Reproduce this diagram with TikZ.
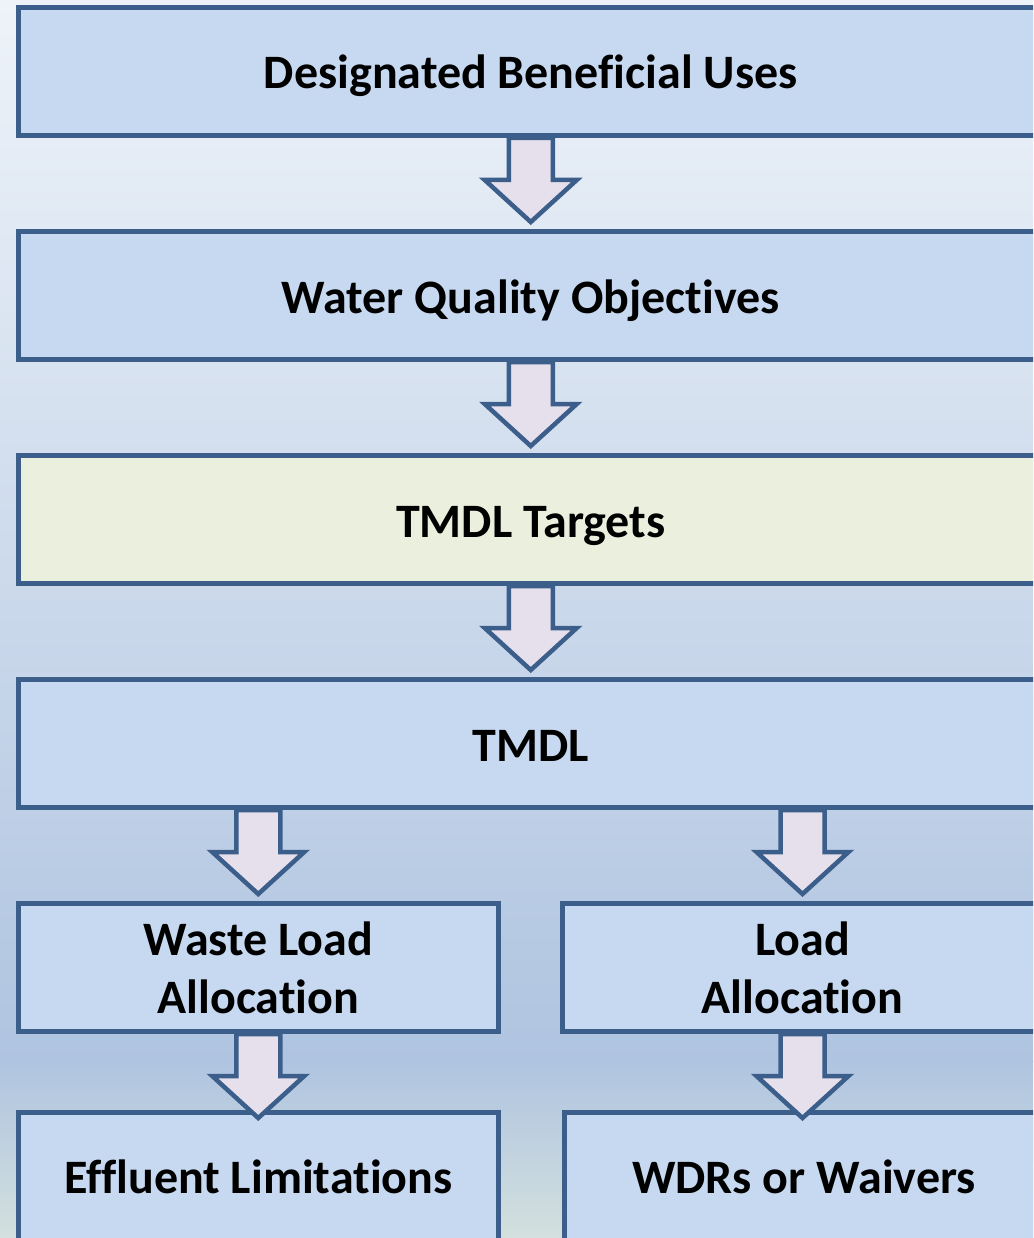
\documentclass[tikz,border=0pt]{standalone}
\usepackage{fontspec}
\setmainfont{Carlito}[Ligatures=NoCommon]
\usetikzlibrary{calc}
\definecolor{boxfill}{HTML}{C6D9F0}
\definecolor{boxline}{HTML}{3B5E8B}
\definecolor{targetfill}{HTML}{EBEFDE}
\definecolor{arrowfill}{HTML}{E6E0EC}
\definecolor{bgtop}{HTML}{EEF3F9}
\definecolor{bgmid}{HTML}{D3DFEE}
\definecolor{bgdeep}{HTML}{AFC4E0}
\definecolor{bgbottom}{HTML}{D3E0DE}
\tikzset{
  stage/.style={draw=boxline, fill=boxfill, line width=5pt, inner sep=0pt,
    font=\bfseries\fontsize{48}{58}\selectfont, align=center, text=black},
  oneline/.style={text height=35pt, text depth=0pt},
  wide/.style={stage, oneline, minimum width=1025pt, minimum height=128pt},
  half/.style={stage, minimum width=480pt, minimum height=128pt},
  blockarrow/.style={draw=boxline, fill=arrowfill, line width=4.5pt, line join=miter}
}
% hollow block arrow from a source point straight down to a target point
\newcommand\flowarrow[2]{%
  \draw[blockarrow] let \p1=(#1), \p2=(#2) in
    (\x2-22pt,\y1) -- (\x2-22pt,\y1-42pt) -- (\x2-46pt,\y1-42pt)
    -- (\x2,\y1-84pt) -- (\x2+46pt,\y1-42pt) -- (\x2+22pt,\y1-42pt)
    -- (\x2+22pt,\y1) -- cycle;}
\begin{document}
\begin{tikzpicture}[x=1pt,y=-1pt]
  \useasboundingbox (0,0) rectangle (1033,1238);
  \clip (0,0) rectangle (1033,1238);
  % background
  \shade[top color=bgtop, middle color=bgmid, bottom color=bgdeep] (0,0) rectangle (1033,1062);
  \shade[top color=bgdeep, bottom color=bgbottom] (0,1060) rectangle (1033,1238);

  % stages
  \node[wide] (uses) at (530.75,71.5) {Designated Beneficial Uses};
  \node[wide] (wqo) at (530.75,295.5) {Water Quality Objectives};
  \node[wide, fill=targetfill] (targets) at (530.75,519.5) {TMDL Targets};
  \node[wide] (tmdl) at (530.75,743.5) {TMDL};
  \node[half] (wla) at (258.25,967.5) {Waste Load\\Allocation};
  \node[half] (la) at (802.5,967.5) {Load\\Allocation};
  \node[half, oneline] (eff) at (258.25,1176) {Effluent Limitations};
  \node[half, oneline] (wdr) at (804,1176) {WDRs or Waivers};

  % flow arrows
  \flowarrow{uses.south}{wqo.north}
  \flowarrow{wqo.south}{targets.north}
  \flowarrow{targets.south}{tmdl.north}
  \flowarrow{tmdl.south -| wla.north}{wla.north}
  \flowarrow{tmdl.south -| la.north}{la.north}
  \flowarrow{wla.south}{eff.north}
  \flowarrow{la.south}{la.south |- wdr.north}
\end{tikzpicture}
\end{document}
